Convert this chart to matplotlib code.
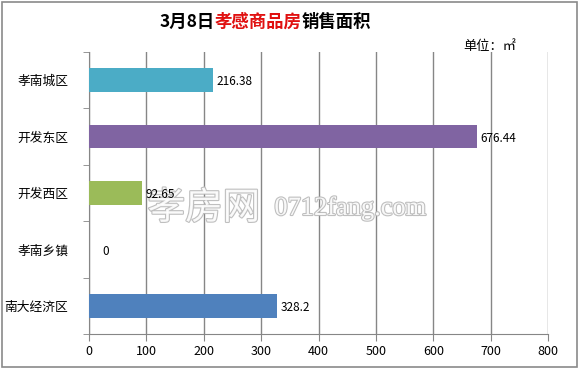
import matplotlib
matplotlib.use("Agg")
import matplotlib.pyplot as plt
import matplotlib.patheffects as pe
from matplotlib.patches import Rectangle
import numpy as np

plt.rcParams['font.family'] = ['Noto Sans CJK SC', 'DejaVu Sans']

categories = ['孝南城区', '开发东区', '开发西区', '孝南乡镇', '南大经济区']
values = [216.38, 676.44, 92.65, 0, 328.2]
value_labels = ['216.38', '676.44', '92.65', '0', '328.2']
colors = ['#4BACC6', '#8064A2', '#9BBB59', '#C0504D', '#4F81BD']
xticks = [0, 100, 200, 300, 400, 500, 600, 700, 800]

fig = plt.figure(figsize=(5.79, 3.69), dpi=100)
fig.patch.set_facecolor('white')
fig.patches.append(Rectangle((0.004, 0.006), 0.992, 0.988, transform=fig.transFigure,
                             fill=False, edgecolor='#8a8a8a', linewidth=1.2))

ax = fig.add_axes([0.1537, 0.0949, 0.7928, 0.7641])
y = np.arange(len(categories))
ax.barh(y, values, height=0.42, color=colors, zorder=3)
ax.set_ylim(len(categories) - 0.5, -0.5)
ax.set_xlim(0, 800)
ax.set_xticks(xticks)
ax.set_xticklabels([str(t) for t in xticks], fontsize=9)
ax.set_yticks(y)
ax.set_yticklabels(categories, fontsize=9.2)
ax.set_yticks(np.arange(-0.5, len(categories) + 0.5, 1), minor=True)
ax.tick_params(axis='y', which='major', length=0, pad=15)
ax.tick_params(axis='y', which='minor', length=4, color='#868686', direction='out')
ax.tick_params(axis='x', which='major', length=5, color='#868686', direction='out', pad=3)
for s in ['top', 'right']:
    ax.spines[s].set_visible(False)
for s in ['left', 'bottom']:
    ax.spines[s].set_color('#868686')
ax.grid(axis='x', color='#868686', linewidth=1, zorder=0)
ax.set_axisbelow(True)

for i, (v, lab) in enumerate(zip(values, value_labels)):
    ax.text(v + 5 if v > 0 else 24, i + 0.03, lab, va='center', ha='left', fontsize=8.5, zorder=5)

# watermark (drawn under the value labels)
wm = dict(color='white', alpha=0.9, zorder=4, transform=fig.transFigure,
          path_effects=[pe.withStroke(linewidth=1.6, foreground='#b8b8b8')])
ax.text(0.255, 0.435, '孝房网', fontsize=27, ha='left', va='center', **wm)
ax.text(0.474, 0.435, '0712fang.com', fontsize=19, ha='left', va='center',
        family='Liberation Serif', **wm)

# title in three colored parts
t1 = fig.text(0.275, 0.94, '3月8日', fontsize=12.5, fontweight='bold', ha='left', va='center')
t2 = fig.text(0, 0, '孝感商品房', fontsize=12.5, fontweight='bold', color='#E01010',
              ha='left', va='center')
t3 = fig.text(0, 0, '销售面积', fontsize=12.5, fontweight='bold', ha='left', va='center')
fig.canvas.draw()
r = fig.canvas.get_renderer()
inv = fig.transFigure.inverted()
bb1 = t1.get_window_extent(r)
x2 = inv.transform((bb1.x1, 0))[0]
t2.set_position((x2, 0.94))
fig.canvas.draw()
bb2 = t2.get_window_extent(r)
x3 = inv.transform((bb2.x1, 0))[0]
t3.set_position((x3, 0.94))

fig.text(0.80, 0.873, '单位：㎡', fontsize=9.5, ha='left', va='center')

fig.savefig('out.png', dpi=100)
